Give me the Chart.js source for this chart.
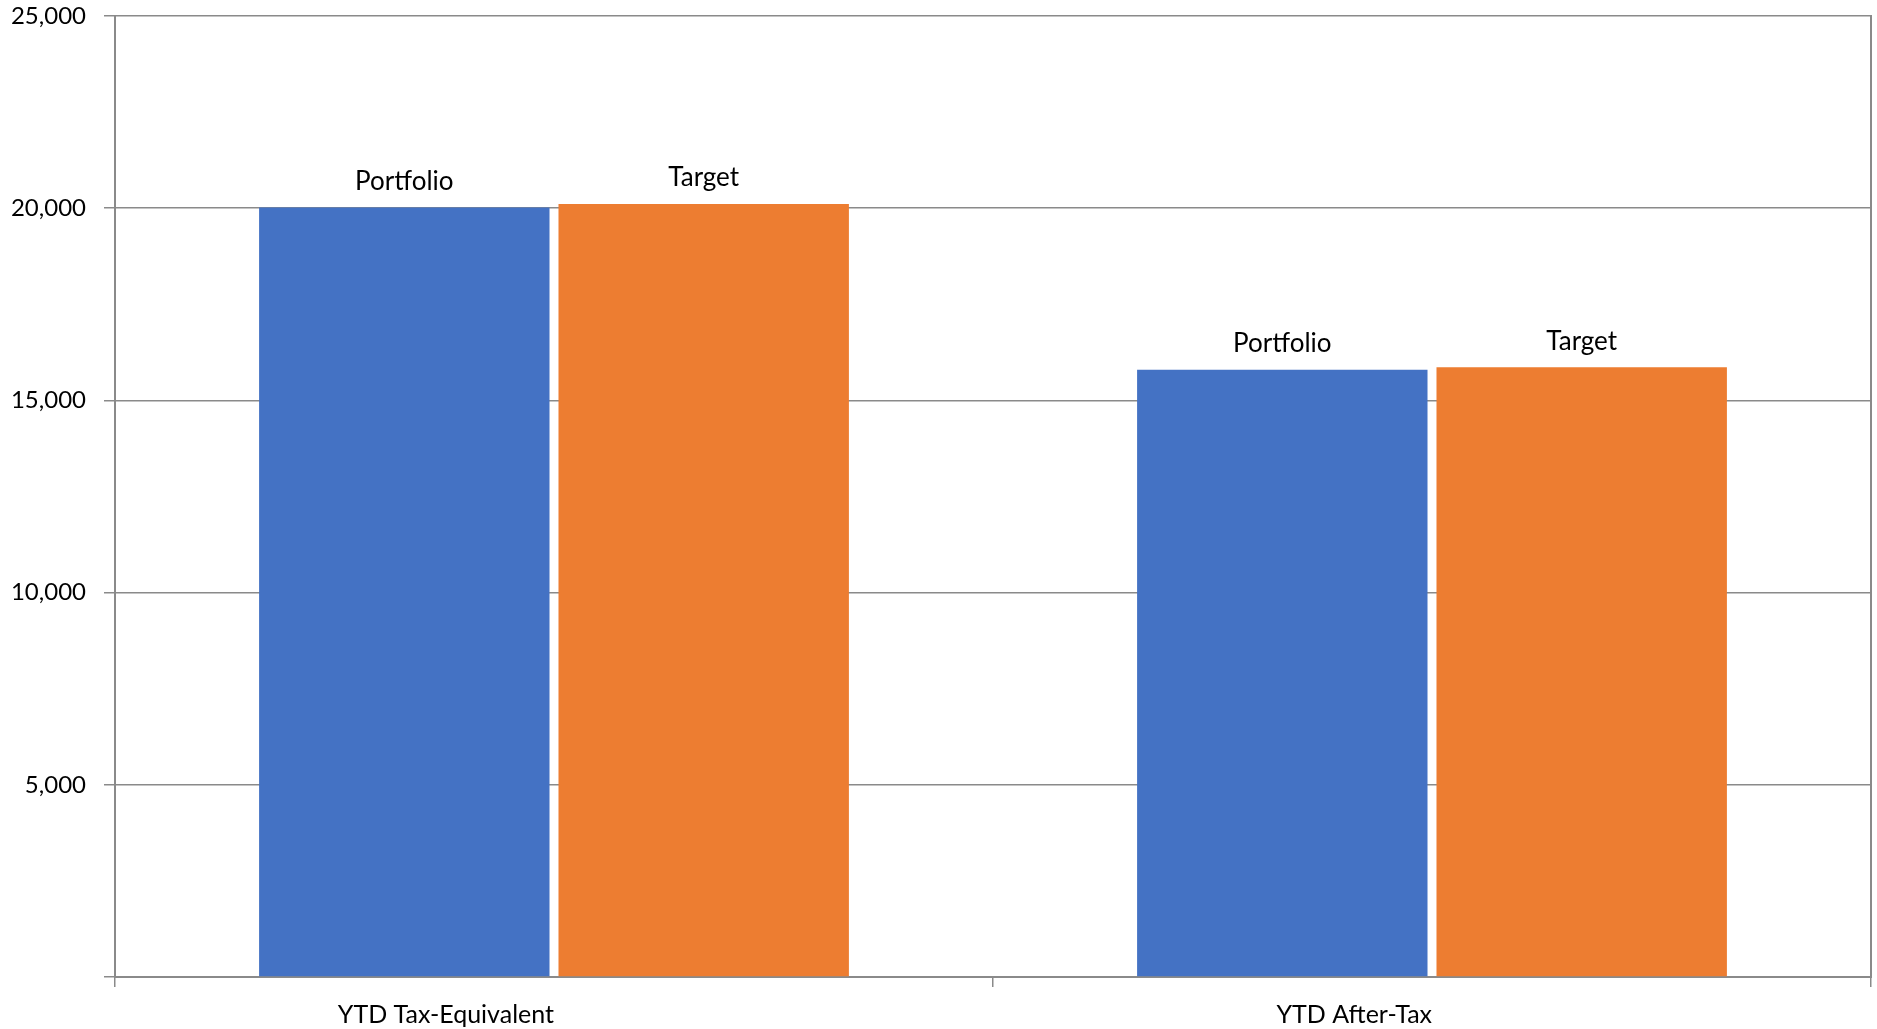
<!DOCTYPE html>
<html>
<head>
<meta charset="utf-8">
<script src="https://cdn.jsdelivr.net/npm/chart.js@4/dist/chart.umd.min.js"></script>
<style>
  html, body { margin: 0; padding: 0; background: #fff; }
  #wrap { width: 1877px; height: 1029px; }
</style>
</head>
<body>
<div id="wrap"><canvas id="chart" width="1877" height="1029"></canvas></div>
<script>
const categories = ["YTD Tax-Equivalent", "YTD After-Tax"];
const portfolio = [20020, 15800];
const target = [20110, 15860];
const yTicks = [0, 5000, 10000, 15000, 20000, 25000];

const AXIS_GREY = "#8a8a8a";
const FONT = "Lato";

// labels above each bar ("Portfolio" / "Target")
const barNames = {
  id: "barNames",
  afterDatasetsDraw(chart) {
    const ctx = chart.ctx;
    ctx.save();
    ctx.font = `26px ${FONT}`;
    ctx.fillStyle = "#000";
    ctx.textAlign = "center";
    ctx.textBaseline = "middle";
    chart.data.datasets.forEach((ds, i) => {
      chart.getDatasetMeta(i).data.forEach(bar => {
        ctx.fillText(ds.label, bar.x, bar.y - 26);
      });
    });
    ctx.restore();
  }
};

new Chart(document.getElementById("chart").getContext("2d"), {
  type: "bar",
  data: {
    labels: categories,
    datasets: [
      { label: "Portfolio", data: portfolio, backgroundColor: "#4472C4" },
      { label: "Target", data: target, backgroundColor: "#ED7D31" }
    ]
  },
  options: {
    responsive: false,
    animation: false,
    devicePixelRatio: 1,
    layout: { padding: { left: 12, right: 6, top: 16, bottom: 0 } },
    categoryPercentage: 0.682,
    barPercentage: 0.97,
    plugins: { legend: { display: false }, tooltip: { enabled: false } },
    scales: {
      x: {
        grid: { drawOnChartArea: false, drawTicks: true, tickLength: 10, color: AXIS_GREY, lineWidth: 1.5, offset: true },
        border: { color: AXIS_GREY, width: 2 },
        ticks: { align: "end", color: "#000", padding: 13, maxRotation: 0, font: { family: FONT, size: 25 } },
        afterFit: (s) => { s.height = 52; s.paddingLeft = 0; s.paddingRight = 0; }
      },
      y: {
        min: 0,
        max: 25000,
        afterBuildTicks: (s) => { s.ticks = yTicks.map(v => ({ value: v })); },
        grid: { color: AXIS_GREY, lineWidth: 1.5, tickLength: 11 },
        border: { color: AXIS_GREY, width: 2 },
        ticks: {
          color: "#000",
          padding: 18,
          font: { family: FONT, size: 24 },
          callback: (v) => v === 0 ? "" : v.toLocaleString("en-US")
        },
        afterFit: (s) => { s.width = 103; s.paddingTop = 0; s.paddingBottom = 0; }
      },
      y2: {
        position: "right",
        min: 0,
        max: 25000,
        grid: { drawOnChartArea: false, drawTicks: false },
        border: { color: AXIS_GREY, width: 2 },
        ticks: { display: false },
        afterFit: (s) => { s.width = 0; s.paddingTop = 0; s.paddingBottom = 0; }
      }
    }
  },
  plugins: [barNames]
});
</script>
</body>
</html>
